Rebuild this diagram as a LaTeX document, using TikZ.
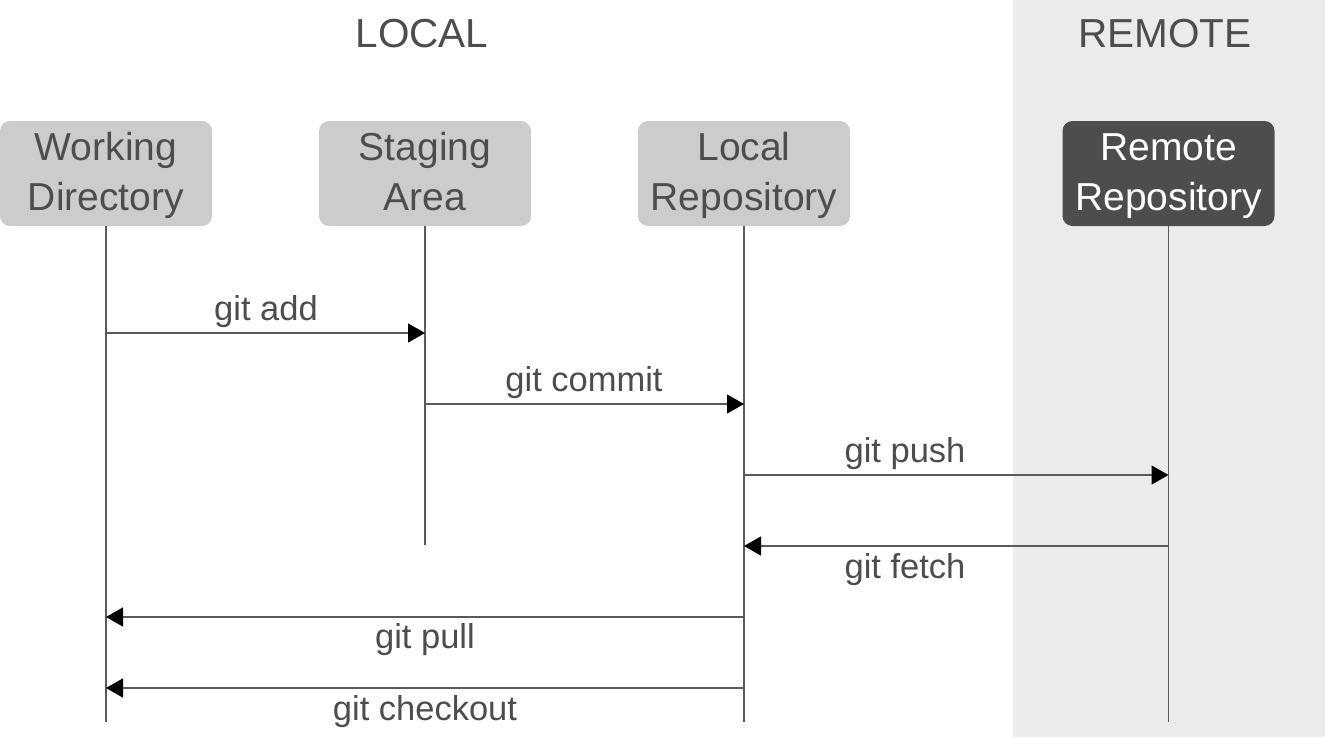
\documentclass[tikz,border=0pt]{standalone}
\usepackage{fontspec}
\setmainfont{Liberation Sans}
\usetikzlibrary{arrows.meta}
\definecolor{boxgray}{HTML}{CCCCCC}
\definecolor{darkbox}{HTML}{4D4D4D}
\definecolor{txt}{HTML}{4D4D4D}
\definecolor{remotebg}{HTML}{EBEBEB}
\definecolor{linegray}{HTML}{5A5A5A}
\newcommand{\topstrut}{\rule{0pt}{33pt}}
\newcommand{\botstrut}{\rule[-10pt]{0pt}{10pt}}
\tikzset{
  actor/.style={rounded corners=10pt, minimum width=212pt, minimum height=105pt, inner sep=0pt,
    align=center, font=\fontsize{39}{50}\selectfont, text=txt, fill=boxgray},
  ractor/.style={actor, fill=darkbox, text=white},
  title/.style={font=\fontsize{40.5}{48}\selectfont, text=txt, anchor=base, inner sep=0pt},
  lbl/.style={font=\fontsize{34.5}{40}\selectfont, text=txt, anchor=base, inner sep=0pt},
  life/.style={draw=linegray, line width=1.3pt},
  msg/.style={draw=linegray, line width=1.3pt, -{Triangle[length=17pt,width=19pt,color=black]}}
}
\begin{document}
\begin{tikzpicture}[x=1pt,y=-1pt]
\useasboundingbox (0,0) rectangle (1325,737);
\fill[remotebg] (1013,0) rectangle (1325,737);
\node[title] (local) at (422,47) {LOCAL};
\node[title] (remote) at (1165,47) {REMOTE};
\node[actor] (wd) at (106,173.5) {\topstrut Working\\Directory\botstrut};
\node[actor] (sa) at (425,173.5) {\topstrut Staging\\Area\botstrut};
\node[actor] (lr) at (744,173.5) {\topstrut Local\\Repository\botstrut};
\node[ractor] (rr) at (1168.5,173.5) {\topstrut Remote\\Repository\botstrut};
\coordinate (wdEnd) at (106,722);
\coordinate (saEnd) at (425,545);
\coordinate (lrEnd) at (744,722);
\coordinate (rrEnd) at (1168.5,722);
\draw[life] (wd.south) -- (wdEnd);
\draw[life] (sa.south) -- (saEnd);
\draw[life] (lr.south) -- (lrEnd);
\draw[life] (rr.south) -- (rrEnd);
\coordinate (yadd) at (0,333);
\coordinate (ycommit) at (0,404);
\coordinate (ypush) at (0,475);
\coordinate (yfetch) at (0,546);
\coordinate (ypull) at (0,617);
\coordinate (ycheckout) at (0,688);
\draw[msg] (wd |- yadd) -- (sa |- yadd);
\draw[msg] (sa |- ycommit) -- (lr |- ycommit);
\draw[msg] (lr |- ypush) -- (rr |- ypush);
\draw[msg] (rr |- yfetch) -- (lr |- yfetch);
\draw[msg] (lr |- ypull) -- (wd |- ypull);
\draw[msg] (lr |- ycheckout) -- (wd |- ycheckout);
\node[lbl] (ladd) at (266,320) {git add};
\node[lbl] (lcommit) at (584,391) {git commit};
\node[lbl] (lpush) at (905,462) {git push};
\node[lbl] (lfetch) at (905,578) {git fetch};
\node[lbl] (lpull) at (425,648) {git pull};
\node[lbl] (lcheckout) at (425,720) {git checkout};
\end{tikzpicture}
\end{document}
